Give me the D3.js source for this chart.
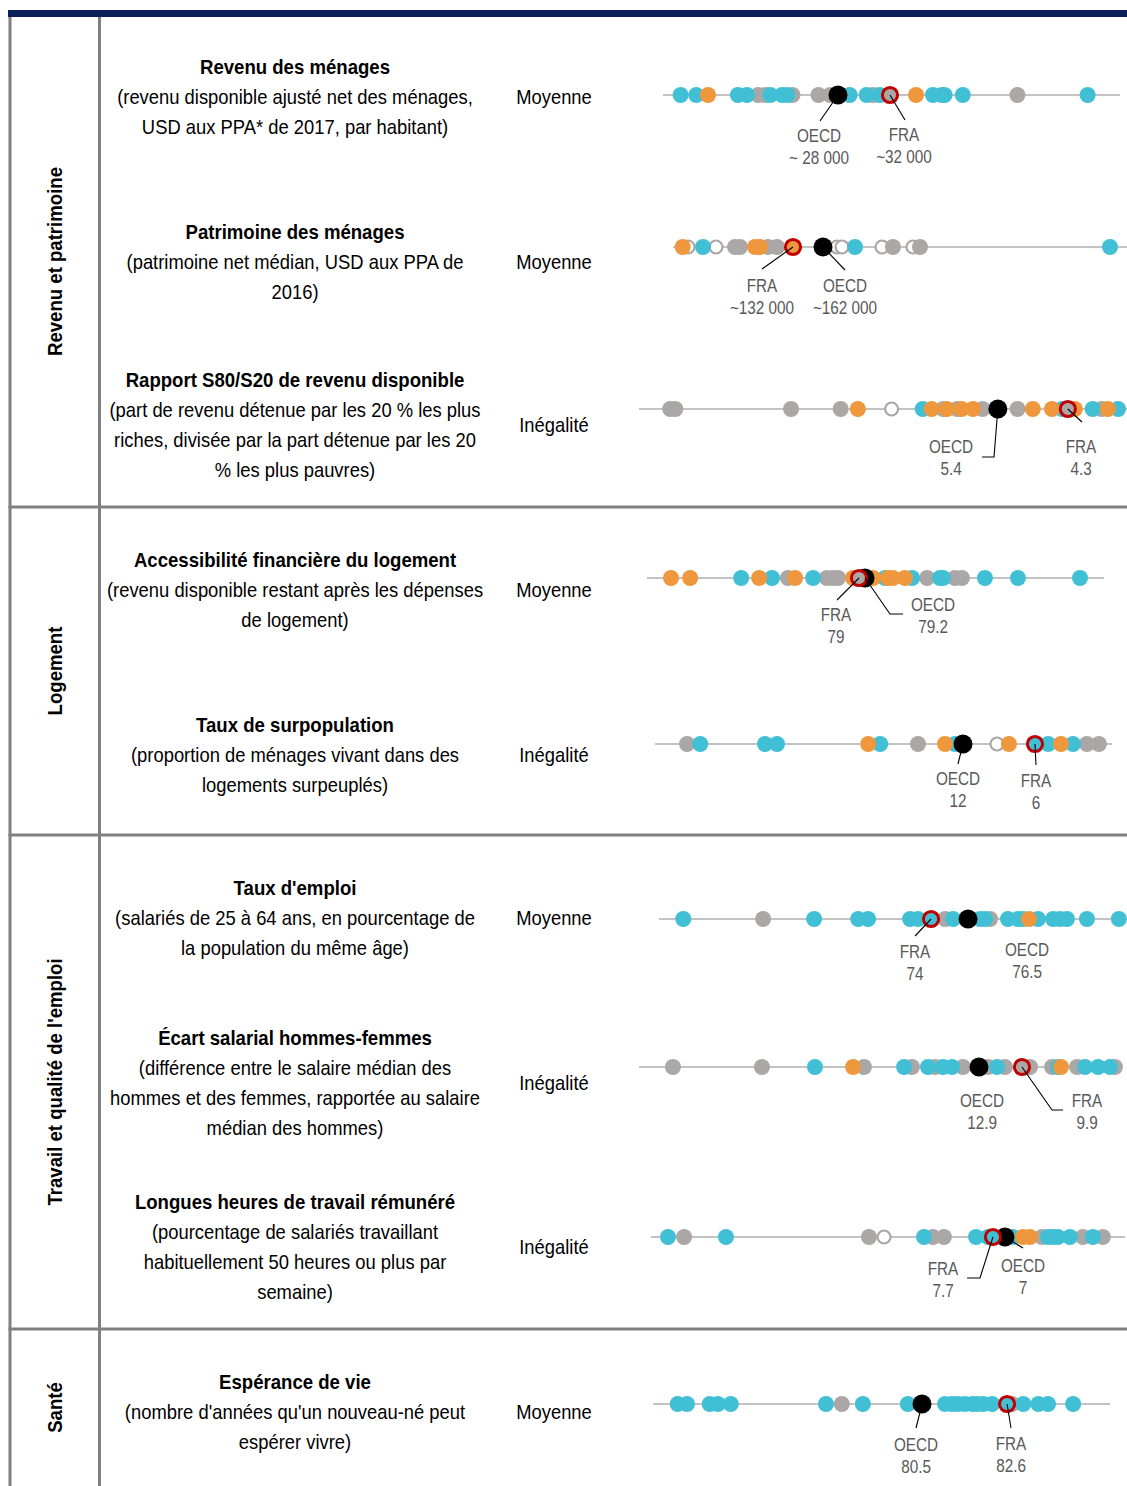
<!DOCTYPE html>
<html><head><meta charset="utf-8">
<script src="https://cdn.jsdelivr.net/npm/d3@7/dist/d3.min.js"></script>
<style>
body{margin:0;background:#fff;}
svg text{font-family:"Liberation Sans",Arial,sans-serif;}
</style></head>
<body><svg id="c" width="1127" height="1486"></svg>
<script>
// ---------- DATA ----------
const categories = ["Revenu et patrimoine","Logement","Travail et qualité de l'emploi","Santé"];
const indicatorTitles = ["Revenu des ménages","Patrimoine des ménages","Rapport S80/S20 de revenu disponible","Accessibilité financière du logement","Taux de surpopulation","Taux d'emploi","Écart salarial hommes-femmes","Longues heures de travail rémunéré","Espérance de vie"];
const indicatorNotes = [
 ["(revenu disponible ajusté net des ménages,","USD aux PPA* de 2017, par habitant)"],
 ["(patrimoine net médian, USD aux PPA de","2016)"],
 ["(part de revenu détenue par les 20 % les plus","riches, divisée par la part détenue par les 20","% les plus pauvres)"],
 ["(revenu disponible restant après les dépenses","de logement)"],
 ["(proportion de ménages vivant dans des","logements surpeuplés)"],
 ["(salariés de 25 à 64 ans, en pourcentage de","la population du même âge)"],
 ["(différence entre le salaire médian des","hommes et des femmes, rapportée au salaire","médian des hommes)"],
 ["(pourcentage de salariés travaillant","habituellement 50 heures ou plus par","semaine)"],
 ["(nombre d'années qu'un nouveau-né peut","espérer vivre)"]
];
const indicatorTypes = ["Moyenne","Moyenne","Inégalité","Moyenne","Inégalité","Moyenne","Inégalité","Inégalité","Moyenne"];

// country dots: [value, group]  t=teal, o=orange, g=grey, e=empty
const revenuDots = [[15900,"t"],[17100,"t"],[18000,"o"],[20300,"t"],[21000,"t"],[21850,"g"],[22400,"g"],[22800,"t"],[23700,"t"],[24100,"t"],[24500,"g"],[26500,"g"],[27400,"g"],[28900,"t"],[30200,"t"],[30700,"g"],[31200,"t"],[34000,"o"],[35300,"t"],[36000,"t"],[36200,"t"],[37600,"t"],[41800,"g"],[47200,"t"]];
const patrimoineDots = [[27000,"e"],[21700,"o"],[42000,"t"],[55000,"e"],[74000,"g"],[79000,"g"],[94000,"o"],[99000,"o"],[107000,"g"],[116000,"g"],[176000,"e"],[181000,"e"],[194000,"t"],[221000,"e"],[232000,"g"],[252000,"e"],[259000,"g"],[449000,"t"]];
const s80Dots = [[10.55,"g"],[10.47,"g"],[8.65,"g"],[7.87,"g"],[7.6,"o"],[7.07,"e"],[6.58,"t"],[6.44,"o"],[6.26,"g"],[6.2,"o"],[6.04,"g"],[5.97,"o"],[5.79,"o"],[5.64,"g"],[5.09,"g"],[4.85,"o"],[4.55,"o"],[4.39,"t"],[4.19,"o"],[3.91,"t"],[3.77,"g"],[3.67,"o"],[3.51,"t"]];
const logementDots = [[72.73,"o"],[73.37,"o"],[75.07,"t"],[75.67,"o"],[76.1,"t"],[76.63,"g"],[76.87,"o"],[77.47,"t"],[77.93,"g"],[78.13,"g"],[78.3,"g"],[78.8,"o"],[79.47,"o"],[79.87,"t"],[79.97,"o"],[80.13,"o"],[80.53,"o"],[80.77,"t"],[81.27,"g"],[81.7,"t"],[81.8,"t"],[82.2,"g"],[82.43,"g"],[83.2,"t"],[84.3,"t"],[86.37,"t"]];
const surpopDots = [[35,"g"],[33.9,"t"],[28.5,"t"],[27.5,"t"],[19.9,"o"],[18.9,"t"],[15.75,"g"],[13.5,"o"],[12.67,"t"],[9.17,"e"],[8.17,"o"],[4.9,"t"],[3.83,"o"],[2.83,"t"],[1.67,"g"],[0.67,"g"]];
const emploiDots = [[57.24,"t"],[62.64,"g"],[66.09,"t"],[69.07,"t"],[69.74,"t"],[72.58,"t"],[73.12,"t"],[74.95,"g"],[75.49,"t"],[77.31,"t"],[77.65,"t"],[77.99,"g"],[79.2,"t"],[79.88,"t"],[80.22,"t"],[80.62,"o"],[81.23,"t"],[82.25,"t"],[82.72,"t"],[83.19,"t"],[84.54,"t"],[86.7,"t"]];
const ecartDots = [[34.26,"g"],[28.05,"g"],[24.35,"t"],[21.69,"o"],[20.93,"g"],[18.13,"t"],[17.58,"g"],[16.46,"t"],[15.97,"g"],[15.41,"t"],[14.78,"t"],[14.02,"g"],[12.27,"g"],[11.64,"t"],[11.09,"g"],[9.34,"g"],[7.8,"g"],[7.39,"t"],[7.18,"o"],[6.06,"g"],[5.5,"t"],[4.59,"t"],[3.76,"t"],[3.41,"g"]];
const heuresDots = [[26.65,"t"],[25.71,"g"],[23.27,"t"],[14.93,"g"],[14.05,"e"],[11.72,"t"],[11.2,"g"],[10.56,"g"],[8.69,"t"],[7.99,"t"],[6.53,"t"],[5.95,"o"],[5.54,"o"],[4.84,"g"],[4.49,"t"],[4.2,"t"],[3.91,"t"],[3.21,"t"],[2.45,"g"],[1.87,"t"],[1.29,"g"]];
const santeDots = [[74.47,"t"],[74.7,"t"],[75.26,"t"],[75.46,"t"],[75.78,"t"],[78.13,"t"],[78.52,"g"],[79.04,"t"],[80.15,"t"],[81.07,"t"],[81.24,"t"],[81.39,"t"],[81.56,"t"],[81.74,"t"],[81.86,"t"],[82.01,"t"],[82.23,"t"],[82.72,"g"],[83.0,"t"],[83.37,"t"],[83.61,"t"],[84.23,"t"]];

const oecdValues = [28000,162000,5.4,79.2,12,76.5,12.9,7,80.5];
const oecdLabels = ["~ 28 000","~162 000","5.4","79.2","12","76.5","12.9","7","80.5"];
const fraValues = [32000,132000,4.3,79,6,74,9.9,7.7,82.6];
const fraLabels = ["~32 000","~132 000","4.3","79","6","74","9.9","7.7","82.6"];
const fraGroups = ["g","o","g","g","t","t","g","t","t"];
const scaleDomains = [[14540,49690],[12000,466000],[11.04,3.37],[71.93,87.17],[37.67,-0.42],[55.6,87.25],[36.63,2.92],[27.64,0],[73.86,85.14]];

// ---------- LAYOUT ----------
const allDots = [revenuDots,patrimoineDots,s80Dots,logementDots,surpopDots,emploiDots,ecartDots,heuresDots,santeDots];
const rowLayout = [
 {y:95,  r:[663,1120], ty:67},
 {y:247, r:[673,1127], ty:232},
 {y:409, r:[639,1127], ty:380},
 {y:578, r:[647,1104], ty:560},
 {y:744, r:[655,1112], ty:725},
 {y:919, r:[659,1127], ty:888},
 {y:1067,r:[639,1122], ty:1038},
 {y:1237,r:[651,1125], ty:1202},
 {y:1404,r:[653,1110], ty:1382}
];
const oecdAnno = [
 [819,136,[[820,121]]],[845,286,[[845,270]]],[951,447,[[994,457],[982,457]]],
 [933,605,[[890,614],[903,614]]],[958,779,[[958,764]]],[1027,950,null],
 [982,1101,null],[1023,1266,[[1023,1248]]],[916,1445,[[916,1428]]]
];
const fraAnno = [
 [904,135,[[905,120]]],[762,286,[[762,269]]],[1081,447,[[1082,422]]],
 [836,615,[[837,600]]],[1036,781,[[1036,765]]],[915,952,[[915,936]]],
 [1087,1101,[[1052,1110],[1063,1110]]],[943,1269,[[980,1278],[967,1278]]],[1011,1444,[[1011,1428]]]
];
const categoryLayout = [[10,507],[507,835],[835,1329],[1329,1486]];

const colors = {t:"#41c0d5", o:"#ef973c", g:"#aaa7a6", e:"#ffffff"};
const drawOrder = {e:0,g:1,t:2,o:3};

const svg = d3.select("#c");

// narrow text helper (Arial-Narrow-like)
function txt(parent, x, y, s, size, opts={}){
  const sx = opts.sx || 0.92;
  const rot = opts.rot ? ` rotate(${opts.rot})` : "";
  const t = parent.append("text")
    .attr("transform",`translate(${x},${y})${rot} scale(${sx},1)`)
    .attr("text-anchor","middle").attr("dominant-baseline","central")
    .attr("font-size",size).attr("fill",opts.fill||"#000").text(s);
  if(opts.bold) t.attr("font-weight","bold");
  return t;
}

// frame
svg.append("rect").attr("x",8).attr("y",10).attr("width",1119).attr("height",7).attr("fill","#0b1f5b");
const frame = svg.append("g").attr("stroke","#808080").attr("stroke-width",3);
frame.append("line").attr("x1",10).attr("x2",10).attr("y1",17).attr("y2",1486);
frame.append("line").attr("x1",99.5).attr("x2",99.5).attr("y1",17).attr("y2",1486);
[507,835,1329].forEach(y=>frame.append("line").attr("x1",8.5).attr("x2",1127).attr("y1",y).attr("y2",y));

// category labels
categories.forEach((c,i)=>{
  const [a,b] = categoryLayout[i];
  const cy = (a+b)/2 + (i===0?3:0);
  txt(svg, 55, cy, c, 20, {bold:true, rot:-90, sx:0.93});
});

rowLayout.forEach((L,i)=>{
  txt(svg, 295, L.ty, indicatorTitles[i], 20, {bold:true, sx:0.93});
  indicatorNotes[i].forEach((t,k)=>txt(svg, 295, L.ty+30*(k+1), t, 20));
  const nLines = indicatorNotes[i].length+1;
  txt(svg, 554, L.ty + 15*(nLines-1), indicatorTypes[i], 20);

  const x = d3.scaleLinear().domain(scaleDomains[i]).range(L.r);
  const g = svg.append("g");
  g.append("line").attr("x1",x.range()[0]).attr("x2",x.range()[1]).attr("y1",L.y).attr("y2",L.y)
    .attr("stroke","#c3c3c3").attr("stroke-width",2);
  const dots = allDots[i].map((d,k)=>({v:d[0],grp:d[1],k})).sort((a,b)=>drawOrder[a.grp]-drawOrder[b.grp]||a.k-b.k);
  g.selectAll("circle.d").data(dots).join("circle").attr("class","d")
    .attr("cx",d=>x(d.v)).attr("cy",L.y)
    .attr("r",d=>d.grp==="e"?6.5:8)
    .attr("fill",d=>colors[d.grp])
    .attr("stroke",d=>d.grp==="e"?colors.g:"none").attr("stroke-width",2.2);
  g.append("circle").attr("cx",x(oecdValues[i])).attr("cy",L.y).attr("r",9.5).attr("fill","#000");
  g.append("circle").attr("cx",x(fraValues[i])).attr("cy",L.y).attr("r",7.6)
    .attr("fill",colors[fraGroups[i]]).attr("stroke","#c00000").attr("stroke-width",3);

  const annos = [[oecdAnno[i],"OECD",oecdLabels[i],oecdValues[i]],[fraAnno[i],"FRA",fraLabels[i],fraValues[i]]];
  annos.forEach(([a,name,lab,v])=>{
    const [lx,ly,pts] = a;
    if(pts){
      const path = [[x(v),L.y]].concat(pts);
      g.append("path").attr("d",d3.line()(path)).attr("fill","none").attr("stroke","#000").attr("stroke-width",1.1);
    }
    txt(g, lx, ly, name, 18, {fill:"#595959", sx:0.85});
    txt(g, lx, ly+22, lab, 18, {fill:"#595959", sx:0.85});
  });
});
</script></body></html>
